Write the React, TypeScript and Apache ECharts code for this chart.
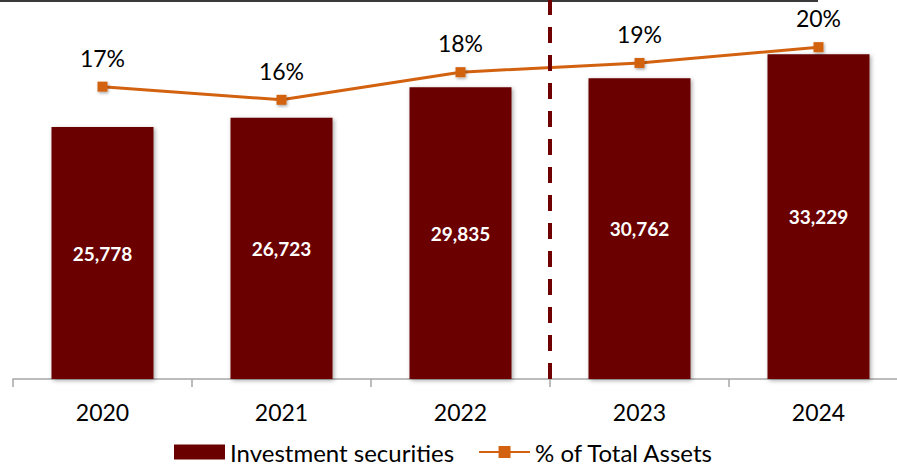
import React, { useEffect, useRef } from "react";
import * as echarts from "echarts";

const years = ["2020", "2021", "2022", "2023", "2024"];
const investmentSecurities = [25778, 26723, 29835, 30762, 33229];
const pctOfTotalAssets = [17.2, 16.2, 18.3, 19.0, 20.2];
const forecastBoundary = 3; // boundary between 2022 and 2023 (band index)

const FONT = "Lato, 'Noto Sans', sans-serif";
const BAR_COLOR = "#6A0000";
const LINE_COLOR = "#D2620F";

export default function App() {
  const ref = useRef<HTMLDivElement>(null);

  useEffect(() => {
    if (!ref.current) return;
    const chart = echarts.init(ref.current, null, { renderer: "svg" });
    chart.setOption({
      animation: false,
      backgroundColor: "#ffffff",
      textStyle: { fontFamily: FONT },
      grid: { left: 13, right: 12, top: 0, bottom: 86, containLabel: false },
      legend: {
        data: [
          { name: "Investment securities", icon: "rect" },
          { name: "% of Total Assets" },
        ],
        left: 174,
        top: 440,
        padding: 0,
        itemWidth: 51,
        itemHeight: 15,
        itemGap: 24,
        textStyle: { fontFamily: FONT, fontSize: 24, color: "#000", lineHeight: 20 },
      },
      xAxis: [
        {
          type: "category",
          data: years,
          boundaryGap: true,
          axisLine: { show: true, lineStyle: { color: "#a6a6a6", width: 1.5 } },
          axisTick: { show: true, length: 8, lineStyle: { color: "#a6a6a6", width: 1.5 } },
          axisLabel: { color: "#000", fontFamily: FONT, fontSize: 23, lineHeight: 24, margin: 21 },
          splitLine: { show: false },
        },
        { type: "value", min: 0, max: years.length, show: false },
      ],
      yAxis: [
        { type: "value", min: 0, max: 38770, show: false, splitLine: { show: false } },
        { type: "value", min: -5, max: 23.78, show: false, splitLine: { show: false } },
      ],
      series: [
        {
          name: "Investment securities",
          type: "bar",
          data: investmentSecurities,
          barWidth: 102,
          itemStyle: {
            color: BAR_COLOR,
            shadowColor: "rgba(0,0,0,0.35)",
            shadowBlur: 4,
            shadowOffsetX: 1.5,
            shadowOffsetY: 1.5,
          },
          label: {
            show: true,
            position: "inside",
            color: "#fff",
            fontFamily: FONT,
            fontWeight: "bold",
            fontSize: 19,
            formatter: (p: any) => Number(p.value).toLocaleString("en-US"),
          },
          z: 2,
        },
        {
          name: "% of Total Assets",
          type: "line",
          yAxisIndex: 1,
          data: pctOfTotalAssets,
          symbol: "rect",
          symbolSize: 10,
          lineStyle: { color: LINE_COLOR, width: 3 },
          itemStyle: {
            color: LINE_COLOR,
            shadowColor: "rgba(0,0,0,0.35)",
            shadowBlur: 3,
            shadowOffsetX: 1,
            shadowOffsetY: 1.5,
          },
          label: {
            show: true,
            position: "top",
            distance: 12,
            color: "#000",
            fontFamily: FONT,
            fontSize: 23,
            lineHeight: 24,
            formatter: (p: any) => Math.round(p.value) + "%",
          },
          z: 4,
        },
        {
          type: "scatter",
          xAxisIndex: 1,
          yAxisIndex: 0,
          data: [[forecastBoundary, 0]],
          symbolSize: 0,
          silent: true,
          markLine: {
            silent: true,
            symbol: "none",
            label: { show: false },
            lineStyle: { color: "#700000", width: 4, type: [16, 12] },
            data: [{ xAxis: forecastBoundary }],
          },
          z: 3,
        },
      ],
      graphic: [
        {
          type: "line",
          shape: { x1: 0, y1: 1, x2: 818, y2: 1 },
          style: { stroke: "#3a3a3a", lineWidth: 2 },
          silent: true,
        },
      ],
    });
    return () => chart.dispose();
  }, []);

  return (
    <div
      style={{
        position: "absolute",
        left: 0,
        top: 0,
        width: 897,
        height: 465,
        overflow: "hidden",
      }}
    >
      <div ref={ref} style={{ width: 920, height: 465 }} />
    </div>
  );
}
